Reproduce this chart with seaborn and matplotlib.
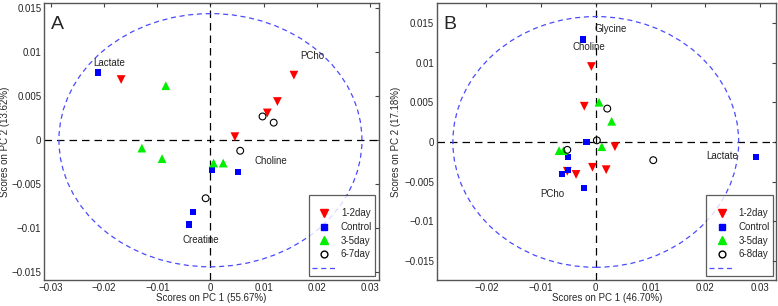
import numpy as np
import pandas as pd
import matplotlib
matplotlib.use("Agg")
import matplotlib.pyplot as plt
import seaborn as sns
from matplotlib.patches import Ellipse
from matplotlib.lines import Line2D

# -------------------------------
# data, panel A
# -------------------------------
a_12_x = [-0.0168, 0.0157, 0.0126, 0.0107, 0.0046]
a_12_y = [0.0069, 0.0074, 0.0044, 0.0031, 0.0004]
a_ctrl_x = [-0.0211, 0.0003, 0.0052, -0.0033, -0.0040]
a_ctrl_y = [0.0077, -0.0034, -0.0036, -0.0082, -0.0096]
a_35_x = [-0.0084, -0.0129, -0.0091, 0.0006, 0.0024]
a_35_y = [0.0062, -0.0009, -0.0021, -0.0026, -0.0026]
a_67_x = [0.0098, 0.0119, 0.0056, -0.0009]
a_67_y = [0.0027, 0.0020, -0.0012, -0.0066]

a_labels = ["Lactate", "PCho", "Choline", "Creatine"]
a_lab_x = [-0.0190, 0.0192, 0.0114, -0.0019]
a_lab_y = [0.0088, 0.0096, -0.0024, -0.0114]

# -------------------------------
# data, panel B
# -------------------------------
b_12_x = [-0.0008, -0.0021, 0.0035, -0.0006, 0.0019, -0.0052, -0.0036]
b_12_y = [0.0095, 0.0045, -0.0006, -0.0032, -0.0035, -0.0037, -0.0041]
b_ctrl_x = [-0.0023, -0.0017, -0.0051, -0.0051, -0.0062, -0.0021, 0.0292]
b_ctrl_y = [0.0129, 0.0000, -0.0019, -0.0035, -0.0040, -0.0058, -0.0019]
b_35_x = [0.0006, 0.0029, 0.0011, -0.0067, -0.0059]
b_35_y = [0.0050, 0.0026, -0.0006, -0.0011, -0.0011]
b_68_x = [0.0021, 0.0002, -0.0052, 0.0105]
b_68_y = [0.0042, 0.0002, -0.0010, -0.0023]

b_labels = ["Glycine", "Choline", "Lactate", "PCho"]
b_lab_x = [0.0027, -0.0013, 0.0230, -0.0080]
b_lab_y = [0.0142, 0.0119, -0.0018, -0.0066]

# -------------------------------
# styles
# -------------------------------
marks = {"1-2day": "v", "Control": "s", "3-5day": "^", "6-7day": "o", "6-8day": "o"}
colors = {"1-2day": "#ff0000", "Control": "#0000ff", "3-5day": "#00ee00",
          "6-7day": "none", "6-8day": "none"}
sizes = {"1-2day": 40, "Control": 20, "3-5day": 40, "6-7day": 24, "6-8day": 24}
FS = 7
ELL_COLOR = "#4a4aff"
ELL_DASH = (0, (4, 3))


def make_df(groups):
    rows = []
    for name, xs, ys in groups:
        for x, y in zip(xs, ys):
            rows.append({"group": name, "x": x, "y": y})
    return pd.DataFrame(rows)


def fmt(v):
    if v == 0:
        return "0"
    return ("\u2212" if v < 0 else "") + f"{abs(v):g}"


def draw_panel(ax, df, labels, lx, ly, ell_w, ell_h, letter, pc1, pc2,
               xlim, ylim, xticks, ylab_x):
    ax.axhline(0, color="black", ls=(0, (6, 4)), lw=0.9, zorder=1)
    ax.axvline(0, color="black", ls=(0, (6, 4)), lw=0.9, zorder=1)
    ell = Ellipse((0, 0), 2 * ell_w, 2 * ell_h, fill=False, ec=ELL_COLOR,
                  ls=ELL_DASH, lw=0.9, zorder=1)
    ax.add_patch(ell)

    handles = []
    for g in df["group"].unique():
        sub = df[df["group"] == g]
        ec = "black" if marks[g] == "o" else "none"
        sns.scatterplot(data=sub, x="x", y="y", marker=marks[g], s=sizes[g],
                        color=colors[g], edgecolor=ec, linewidth=0.8,
                        ax=ax, zorder=3, legend=False)
        handles.append(Line2D([], [], ls="none", marker=marks[g],
                              markersize=np.sqrt(sizes[g]),
                              markerfacecolor=colors[g],
                              markeredgecolor=ec if ec != "none" else colors[g],
                              label=g))
    handles.append(Line2D([], [], color=ELL_COLOR, ls=ELL_DASH, lw=0.9,
                          label=" "))

    for t, x, y in zip(labels, lx, ly):
        ax.text(x, y, t, ha="center", va="center", fontsize=FS, color="#222222")
    ax.text(0.02, 0.955, letter, transform=ax.transAxes, fontsize=14,
            ha="left", va="top")

    leg = ax.legend(handles=handles, loc="lower right", fontsize=FS,
                    title=" ", title_fontsize=5,
                    frameon=True, fancybox=False, edgecolor="#333333",
                    borderaxespad=0.4, handlelength=2.6, handletextpad=0.4,
                    labelspacing=0.38, borderpad=0.3)
    leg.get_frame().set_linewidth(0.9)

    ax.set_xlim(xlim)
    ax.set_ylim(ylim)
    yticks = [-0.015, -0.01, -0.005, 0, 0.005, 0.01, 0.015]
    ax.set_xticks(xticks)
    ax.set_yticks(yticks)
    ax.set_xticklabels([fmt(v) for v in xticks])
    ax.set_yticklabels([fmt(v) for v in yticks])
    ax.set_xlabel(f"Scores on PC 1 ({pc1})", fontsize=FS, labelpad=0)
    ax.set_ylabel(f"Scores on PC 2 ({pc2})", fontsize=FS)
    ax.yaxis.set_label_coords(ylab_x, 0.5)
    ax.tick_params(direction="in", top=True, right=True, labelsize=FS,
                   length=3, width=0.8, color="#444444", pad=2)
    for sp in ax.spines.values():
        sp.set_color("#555555")
        sp.set_linewidth(1.0)


sns.set_style("white")
plt.rcParams["font.family"] = ["Liberation Sans", "DejaVu Sans"]

df_a = make_df([("1-2day", a_12_x, a_12_y), ("Control", a_ctrl_x, a_ctrl_y),
                ("3-5day", a_35_x, a_35_y), ("6-7day", a_67_x, a_67_y)])
df_b = make_df([("1-2day", b_12_x, b_12_y), ("Control", b_ctrl_x, b_ctrl_y),
                ("3-5day", b_35_x, b_35_y), ("6-8day", b_68_x, b_68_y)])

fig = plt.figure(figsize=(7.78, 3.06), dpi=100)
ax_a = fig.add_axes([0.0566, 0.085, 0.4305, 0.905])
ax_b = fig.add_axes([0.5617, 0.085, 0.4363, 0.905])

draw_panel(ax_a, df_a, a_labels, a_lab_x, a_lab_y, 0.0285, 0.0144, "A",
           "55.67%", "13.62%", (-0.0313, 0.0317), (-0.0159, 0.0156),
           [-0.03, -0.02, -0.01, 0, 0.01, 0.02, 0.03], -0.102)
draw_panel(ax_b, df_b, b_labels, b_lab_x, b_lab_y, 0.0261, 0.0158, "B",
           "46.70%", "17.18%", (-0.0290, 0.0330), (-0.0174, 0.0175),
           [-0.02, -0.01, 0, 0.01, 0.02, 0.03], -0.106)

fig.savefig("out.png", dpi=100)
